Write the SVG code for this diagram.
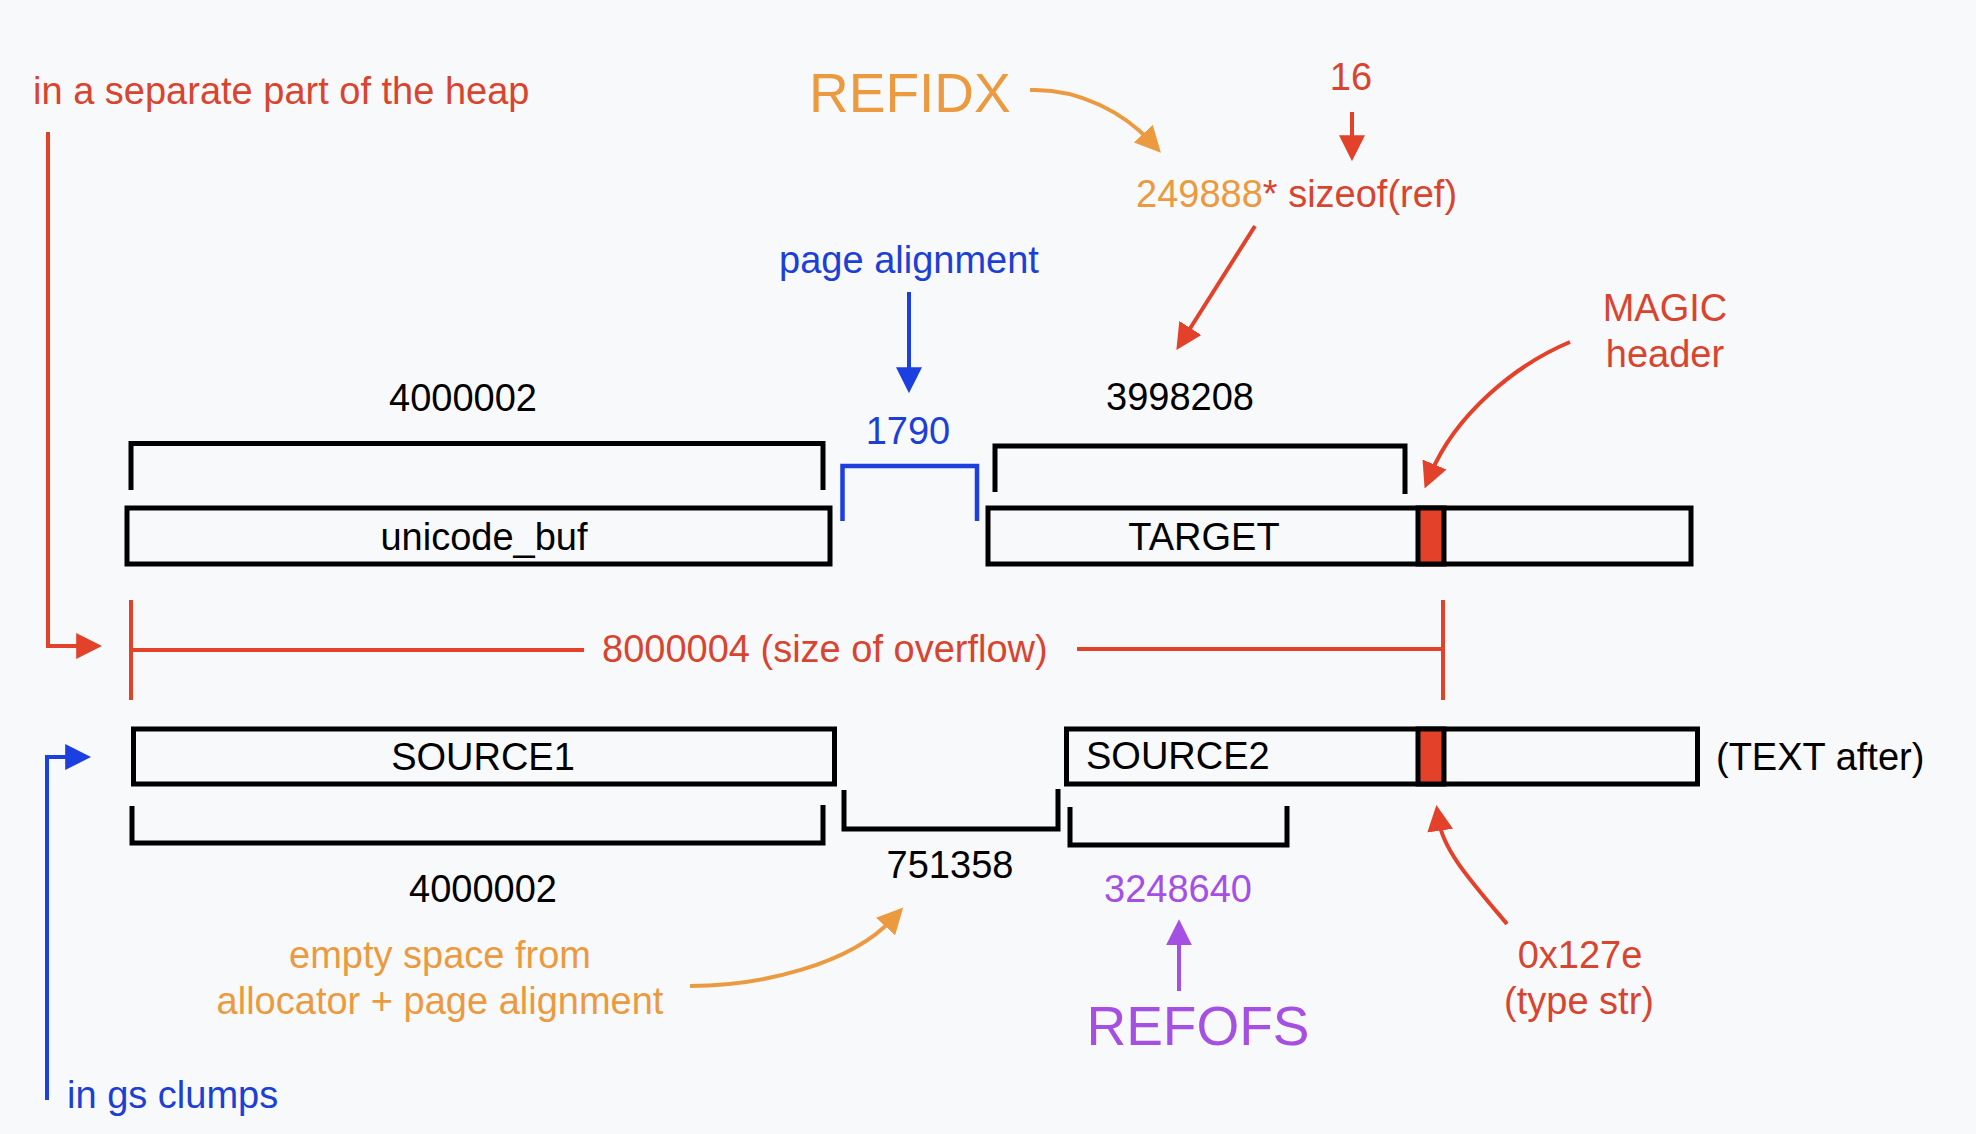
<svg xmlns="http://www.w3.org/2000/svg" width="1976" height="1134" viewBox="0 0 1976 1134">
<defs>
<style>
text{font-family:"Liberation Sans",Arial,Helvetica,sans-serif;font-size:38px}
.k{fill:#000}
.r{fill:#D9442F}
.o{fill:#EC9A3F}
.b{fill:#1C3FD6}
.p{fill:#A650E3}
.big{font-size:55px}
.mid{text-anchor:middle}
.box{fill:none;stroke:#000;stroke-width:5}
.brk{fill:none;stroke:#000;stroke-width:5}
.ln{fill:none;stroke-width:4}
</style>
<marker id="aR" markerUnits="userSpaceOnUse" markerWidth="26" markerHeight="26" refX="10" refY="12" orient="auto" viewBox="0 0 24 24"><path d="M0,0 L24,12 L0,24 z" fill="#E4412B"/></marker>
<marker id="aB" markerUnits="userSpaceOnUse" markerWidth="26" markerHeight="26" refX="10" refY="12" orient="auto" viewBox="0 0 24 24"><path d="M0,0 L24,12 L0,24 z" fill="#1C3FE0"/></marker>
<marker id="aO" markerUnits="userSpaceOnUse" markerWidth="26" markerHeight="26" refX="10" refY="12" orient="auto" viewBox="0 0 24 24"><path d="M0,0 L24,12 L0,24 z" fill="#EC9A3F"/></marker>
<marker id="aP" markerUnits="userSpaceOnUse" markerWidth="26" markerHeight="26" refX="10" refY="12" orient="auto" viewBox="0 0 24 24"><path d="M0,0 L24,12 L0,24 z" fill="#A650E3"/></marker>
</defs>
<rect width="1976" height="1134" fill="#F8F9FB"/>

<g id="unicode_buf">
<rect class="box" x="127" y="508" width="703" height="56"/>
<text class="k mid" x="484" y="550">unicode_buf</text>
</g>
<g id="target">
<rect class="box" x="988" y="508" width="703" height="56"/>
<rect x="1418" y="508" width="26" height="56" fill="#E4412B" stroke="#000" stroke-width="5"/>
<text class="k mid" x="1204" y="550">TARGET</text>
</g>
<g id="source1">
<rect class="box" x="133.5" y="729" width="701" height="55"/>
<text class="k mid" x="483" y="770">SOURCE1</text>
</g>
<g id="source2">
<rect class="box" x="1066.5" y="729" width="631" height="55"/>
<rect x="1418" y="729" width="26" height="55" fill="#E4412B" stroke="#000" stroke-width="5"/>
<text class="k" x="1086" y="769">SOURCE2</text>
</g>
<g id="text_after"><text class="k" x="1716" y="770">(TEXT after)</text></g>

<g id="brackets">
<path class="brk" d="M131 490 V443.5 H823 V490"/>
<path class="brk" d="M995 492 V446 H1405 V494"/>
<path d="M842.5 521 V466 H977 V521" fill="none" stroke="#1C3FE0" stroke-width="4.5"/>
<path class="brk" d="M132 806 V843 H823 V805"/>
<path class="brk" d="M844 790 V829 H1058 V789"/>
<path class="brk" d="M1070 807 V845 H1287 V806"/>
</g>

<g id="labels">
<text class="k mid" x="463" y="411">4000002</text>
<text class="b mid" x="908" y="444">1790</text>
<text class="k mid" x="1180" y="410">3998208</text>
<text class="k mid" x="483" y="902">4000002</text>
<text class="k mid" x="950" y="878">751358</text>
<text class="p mid" x="1178" y="902">3248640</text>
</g>

<g id="annotations">
<text class="r" x="33" y="104">in a separate part of the heap</text>
<text class="o big" x="809" y="112">REFIDX</text>
<text class="r mid" x="1351" y="90">16</text>
<text x="1136" y="207"><tspan class="o">249888</tspan><tspan class="r">* sizeof(ref)</tspan></text>
<text class="b mid" x="909" y="273">page alignment</text>
<text class="r mid" x="1665" y="321">MAGIC</text>
<text class="r mid" x="1665" y="367">header</text>
<text class="r" x="602" y="662">8000004 (size of overflow)</text>
<text class="o mid" x="440" y="968">empty space from</text>
<text class="o mid" x="440" y="1014">allocator + page alignment</text>
<text class="p big mid" x="1198" y="1045">REFOFS</text>
<text class="r mid" x="1580" y="968">0x127e</text>
<text class="r mid" x="1579" y="1014">(type str)</text>
<text class="b" x="67" y="1108">in gs clumps</text>
</g>

<g id="connectors">
<path class="ln" stroke="#E4412B" d="M48 132 V646 H87" marker-end="url(#aR)"/>
<path class="ln" stroke="#1C3FE0" d="M47 1100 V757 H76" marker-end="url(#aB)"/>
<path class="ln" stroke="#1C3FE0" d="M909 292 V378" marker-end="url(#aB)"/>
<path class="ln" stroke="#E4412B" d="M1352 112 V146" marker-end="url(#aR)"/>
<path class="ln" stroke="#E4412B" d="M1255 226 L1184.5 337.2" marker-end="url(#aR)"/>
<path class="ln" stroke="#EC9A3F" d="M1030 90 C1080 88 1125 114 1150.6 141.6" marker-end="url(#aO)"/>
<path class="ln" stroke="#E4412B" d="M1570 342 C1515 365 1455 415 1430.4 474.5" marker-end="url(#aR)"/>
<path class="ln" stroke="#EC9A3F" d="M690 986 C760 986 850 965 892.9 918.6" marker-end="url(#aO)"/>
<path class="ln" stroke="#E4412B" d="M1507 924 C1470 880 1443 850 1438.6 820" marker-end="url(#aR)"/>
<path class="ln" stroke="#A650E3" d="M1179 991 V934.5" marker-end="url(#aP)"/>
<path class="ln" stroke="#E4412B" d="M131 600 V700 M131 650 H584 M1077 649 H1443 M1443 600 V700"/>
</g>
</svg>
